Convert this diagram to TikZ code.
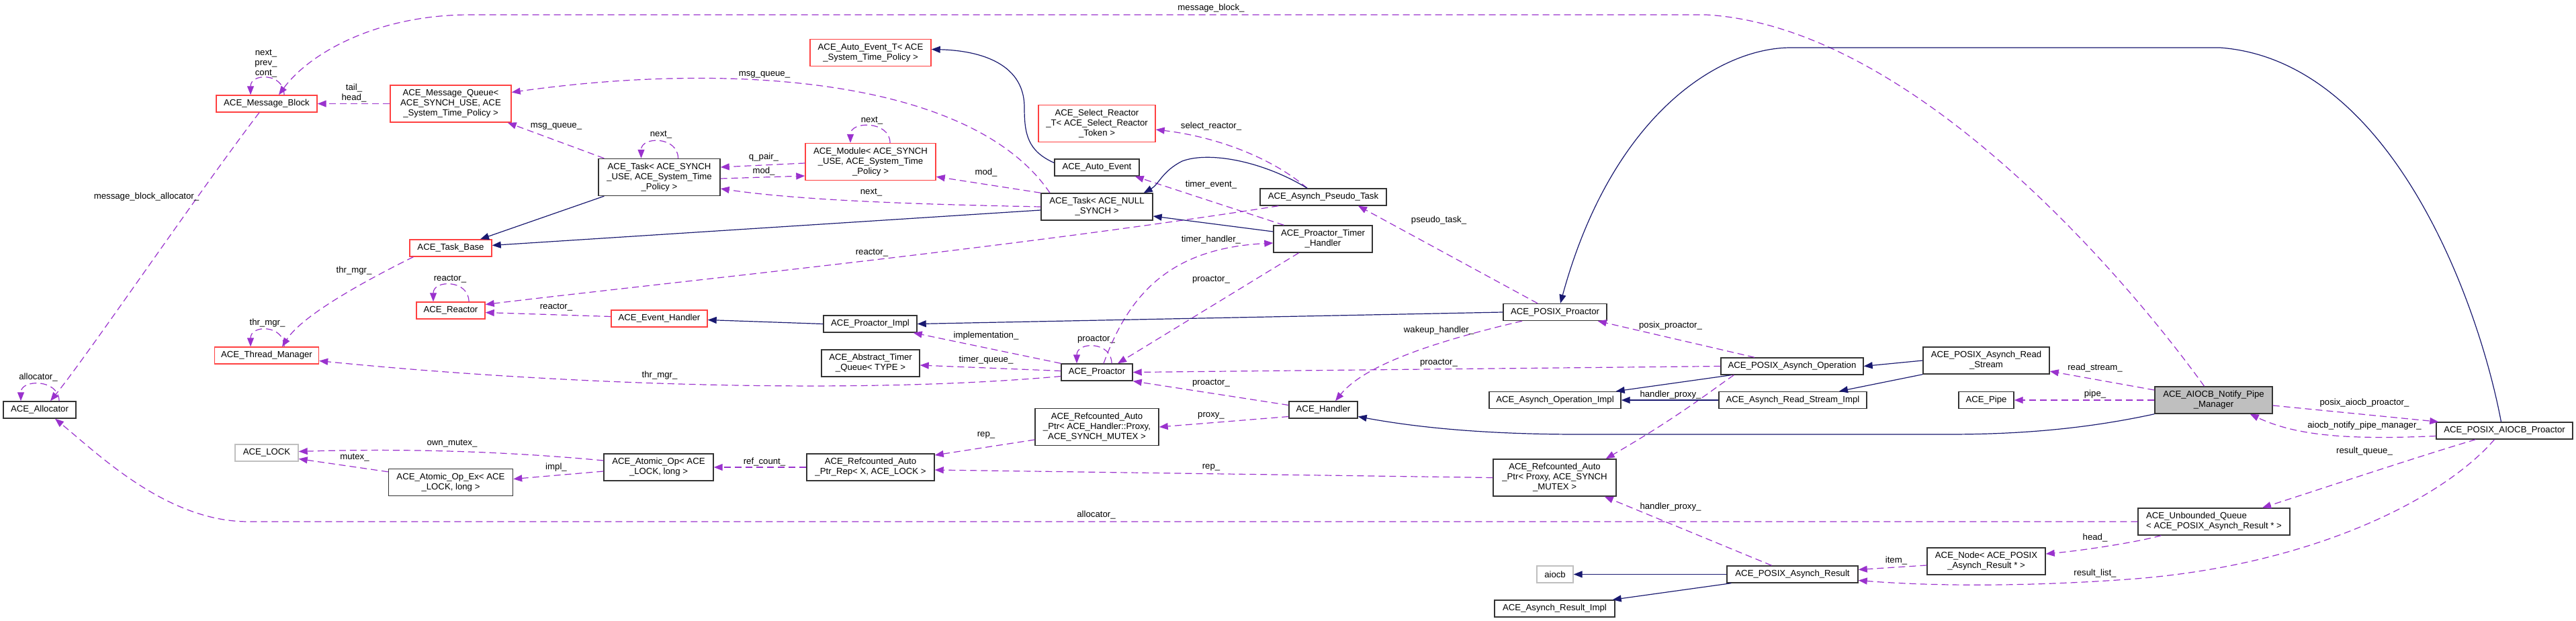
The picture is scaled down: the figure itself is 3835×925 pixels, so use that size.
\documentclass[tikz,border=0pt]{standalone}
\usepackage{fontspec}
\setmainfont{Liberation Sans}
\usetikzlibrary{arrows.meta}
\definecolor{usecol}{HTML}{9A32CD}
\definecolor{inhcol}{HTML}{191970}
\definecolor{boxred}{HTML}{FF4040}
\definecolor{boxgrey}{HTML}{BFBFBF}

\begin{document}
\begin{tikzpicture}[x=1pt,y=-1pt,>={Triangle[length=13pt,width=10pt]}]
	\tikzstyle{every node}=[font=\fontsize{13.2}{15}\selectfont]
	\tikzstyle{cls}=[draw=black!80, line width=1.4pt, fill=white, inner sep=1pt, align=center]
	\tikzstyle{redcls}=[cls, draw=boxred]
	\tikzstyle{greycls}=[cls, draw=boxgrey]
	\tikzstyle{h1}=[minimum height=25pt]
	\tikzstyle{h2}=[minimum height=40pt]
	\tikzstyle{h3}=[minimum height=55pt]
	\tikzstyle{useline}=[draw=usecol, line width=1.2pt, dash pattern=on 10pt off 6pt, ->]
	\tikzstyle{inhline}=[draw=inhcol, line width=1.2pt, ->]
	\tikzstyle{lbl}=[inner sep=0pt, align=center]

	\path[use as bounding box, fill=white] (0,0) rectangle (3835,925);

	\node[redcls, minimum width=150pt, h1] (MB) at (397,154.5) {ACE\_Message\_Block};
	\node[redcls, minimum width=180pt, h3] (MQ) at (671,154.5) {ACE\_Message\_Queue<\\ACE\_SYNCH\_USE, ACE\\\_System\_Time\_Policy >};
	\node[cls, minimum width=108pt, h1] (Alloc) at (59,610.5) {ACE\_Allocator};
	\node[redcls, minimum width=155pt, h1] (TM) at (397,529.5) {ACE\_Thread\_Manager};
	\node[greycls, minimum width=94pt, h1] (LOCK) at (397,674.5) {ACE\_LOCK};
	\node[cls, minimum width=185pt, h2] (AOE) at (671,718.5) {ACE\_Atomic\_Op\_Ex< ACE\\\_LOCK, long >};
	\node[redcls, minimum width=122pt, h1] (TB) at (671,369.5) {ACE\_Task\_Base};
	\node[redcls, minimum width=102pt, h1] (Re) at (671,462.5) {ACE\_Reactor};
	\node[cls, minimum width=181pt, h3] (TS) at (981.5,264) {ACE\_Task< ACE\_SYNCH\\\_USE, ACE\_System\_Time\\\_Policy >};
	\node[redcls, minimum width=143pt, h1] (EH) at (981.5,474.5) {ACE\_Event\_Handler};
	\node[cls, minimum width=163pt, h2] (AO) at (980.5,696) {ACE\_Atomic\_Op< ACE\\\_LOCK, long >};
	\node[redcls, minimum width=180pt, h2] (AET) at (1296,78.5) {ACE\_Auto\_Event\_T< ACE\\\_System\_Time\_Policy >};
	\node[redcls, minimum width=194pt, h3] (Mod) at (1296,241) {ACE\_Module< ACE\_SYNCH\\\_USE, ACE\_System\_Time\\\_Policy >};
	\node[cls, minimum width=139pt, h1] (PI) at (1295.5,482.5) {ACE\_Proactor\_Impl};
	\node[cls, minimum width=146pt, h2] (ATQ) at (1296,541) {ACE\_Abstract\_Timer\\\_Queue< TYPE >};
	\node[cls, minimum width=190pt, h2] (RAPR) at (1296,696) {ACE\_Refcounted\_Auto\\\_Ptr\_Rep< X, ACE\_LOCK >};
	\node[redcls, minimum width=174pt, h3] (SR) at (1633,184) {ACE\_Select\_Reactor\\\_T< ACE\_Select\_Reactor\\\_Token >};
	\node[cls, minimum width=126pt, h1] (AE) at (1633,249.5) {ACE\_Auto\_Event};
	\node[cls, minimum width=166pt, h2] (TN) at (1633,308) {ACE\_Task< ACE\_NULL\\\_SYNCH >};
	\node[cls, minimum width=106pt, h1] (Pro) at (1633,554.5) {ACE\_Proactor};
	\node[cls, minimum width=184pt, h3] (RAPH) at (1633,636) {ACE\_Refcounted\_Auto\\\_Ptr< ACE\_Handler::Proxy,\\ACE\_SYNCH\_MUTEX >};
	\node[cls, minimum width=188pt, h1] (APT) at (1970,293.5) {ACE\_Asynch\_Pseudo\_Task};
	\node[cls, minimum width=147pt, h2] (PTH) at (1969.5,356) {ACE\_Proactor\_Timer\\\_Handler};
	\node[cls, minimum width=154pt, h1] (PP) at (2315,465) {ACE\_POSIX\_Proactor};
	\node[cls, minimum width=102pt, h1] (Han) at (1970,610.5) {ACE\_Handler};
	\node[cls, minimum width=196pt, h1] (AOI) at (2315,596) {ACE\_Asynch\_Operation\_Impl};
	\node[cls, minimum width=183pt, h3] (RAPP) at (2314.5,711.5) {ACE\_Refcounted\_Auto\\\_Ptr< Proxy, ACE\_SYNCH\\\_MUTEX >};
	\node[greycls, minimum width=54pt, h1] (aiocb) at (2315,855.5) {aiocb};
	\node[cls, minimum width=179pt, h1] (ARI) at (2314.5,906.5) {ACE\_Asynch\_Result\_Impl};
	\node[cls, minimum width=212pt, h1] (PAO) at (2668,545.5) {ACE\_POSIX\_Asynch\_Operation};
	\node[cls, minimum width=220pt, h1] (ARSI) at (2669,596) {ACE\_Asynch\_Read\_Stream\_Impl};
	\node[cls, minimum width=195pt, h1] (PAR) at (2668.5,855.5) {ACE\_POSIX\_Asynch\_Result};
	\node[cls, minimum width=188pt, h2] (PARS) at (2957,537) {ACE\_POSIX\_Asynch\_Read\\\_Stream};
	\node[cls, minimum width=82pt, h1] (Pipe) at (2957,596) {ACE\_Pipe};
	\node[cls, minimum width=176pt, h2] (Node) at (2957,836) {ACE\_Node< ACE\_POSIX\\\_Asynch\_Result * >};
	\node[cls, fill=boxgrey, minimum width=175pt, h2] (ANPM) at (3295.5,596) {ACE\_AIOCB\_Notify\_Pipe\\\_Manager};
	\node[cls, minimum width=226pt, h2, align=left] (UQ) at (3296,777) {ACE\_Unbounded\_Queue\\< ACE\_POSIX\_Asynch\_Result * >};
	\node[cls, minimum width=203pt, h1] (PAP) at (3728.5,641.5) {ACE\_POSIX\_AIOCB\_Proactor};

	\draw[useline] ([xshift=26pt]MB.north) .. controls +(0,-33) and +(0,-33) .. ([xshift=-24pt]MB.north) node[lbl] at (396,95) {next\_\\prev\_\\cont\_};
	\draw[useline] ([xshift=29pt]Alloc.north) .. controls +(0,-33) and +(0,-33) .. ([xshift=-28pt]Alloc.north) node[lbl] at (57,562) {allocator\_};
	\draw[useline] ([xshift=26pt]TM.north) .. controls +(0,-33) and +(0,-33) .. ([xshift=-24pt]TM.north) node[lbl] at (398,481) {thr\_mgr\_};
	\draw[useline] ([xshift=28pt]TS.north) .. controls +(0,-33) and +(0,-33) .. ([xshift=-27pt]TS.north) node[lbl] at (984,201) {next\_};
	\draw[useline] ([xshift=29pt]Mod.north) .. controls +(0,-33) and +(0,-33) .. ([xshift=-30pt]Mod.north) node[lbl] at (1298,180) {next\_};
	\draw[useline] ([xshift=27pt]Re.north) .. controls +(0,-33) and +(0,-33) .. ([xshift=-26pt]Re.north) node[lbl] at (670,416) {reactor\_};
	\draw[useline] ([xshift=22pt]Pro.north) .. controls +(0,-33) and +(0,-33) .. ([xshift=-30pt]Pro.north) node[lbl] at (1632,506) {proactor\_};

	\draw[useline] ([xshift=-14pt]ANPM.north) .. controls (3170,420) and (2850,40) .. (2540,22) -- (700,22) .. controls (560,22) and (460,80) .. ([xshift=18pt]MB.north) node[lbl] at (1803,12) {message\_block\_};
	\draw[useline] (MQ.west) -- (MB.east) node[lbl] at (527,139) {tail\_\\head\_};
	\draw[useline] ([xshift=-11pt]MB.south) .. controls (300,280) and (130,530) .. ([xshift=16pt]Alloc.north) node[lbl] at (218,293) {message\_block\_allocator\_};
	\draw[useline] (UQ.west) -- (370,777) .. controls (250,777) and (150,680) .. ([xshift=23pt]Alloc.south) node[lbl] at (1632,767) {allocator\_};
	\draw[useline] ([xshift=6pt]TB.south west) .. controls (540,420) and (450,470) .. ([xshift=23pt]TM.north) node[lbl] at (527,403) {thr\_mgr\_};
	\draw[useline] ([yshift=-6pt]Pro.west) .. controls (1250,590) and (800,570) .. ([yshift=-8pt]TM.east) node[lbl] at (982,559) {thr\_mgr\_};
	\draw[useline] ([xshift=9pt]TS.north west) -- ([xshift=-6pt]MQ.south east) node[lbl] at (828,188) {msg\_queue\_};
	\draw[useline] ([xshift=-70pt]TN.north) .. controls (1450,120) and (1100,90) .. ([yshift=17pt]MQ.east) node[lbl] at (1138,111) {msg\_queue\_};
	\draw[useline] ([yshift=-2pt]Mod.west) -- ([yshift=15pt]TS.east) node[lbl] at (1137,234) {q\_pair\_};
	\draw[useline] ([yshift=-2pt]TS.east) -- ([yshift=-21pt]Mod.west) node[lbl] at (1137,255) {mod\_};
	\draw[useline] (TN.north west) -- ([yshift=6pt]Mod.south east) node[lbl] at (1468,257) {mod\_};
	\draw[useline] (TN.west) .. controls (1400,305) and (1200,300) .. ([yshift=-17pt]TS.east) node[lbl] at (1297,287) {next\_};
	\draw[useline] ([xshift=28pt]APT.south west) .. controls (1500,370) and (1000,420) .. ([yshift=9pt]Re.east) node[lbl] at (1298,377) {reactor\_};
	\draw[useline] ([yshift=3pt]EH.west) -- ([yshift=-3pt]Re.east) node[lbl] at (828,458) {reactor\_};
	\draw[useline] (Pro.north west) -- ([xshift=-6pt]PI.south east) node[lbl] at (1468,500) {implementation\_};
	\draw[useline] ([yshift=2pt]Pro.west) -- ([yshift=-3pt]ATQ.east) node[lbl] at (1468,536) {timer\_queue\_};
	\draw[useline] ([xshift=10pt]Pro.north) .. controls (1680,440) and (1740,370) .. ([yshift=-6pt]PTH.west) node[lbl] at (1803,357) {timer\_handler\_};
	\draw[useline] ([xshift=-36pt]PTH.south) -- ([xshift=31pt]Pro.north) node[lbl] at (1803,417) {proactor\_};
	\draw[useline] (PAO.west) -- (Pro.east) node[lbl] at (2142,541) {proactor\_};
	\draw[useline] ([yshift=7pt]Han.west) -- (Pro.south east) node[lbl] at (1803,571) {proactor\_};
	\draw[useline] ([yshift=-10pt]Han.west) -- (RAPH.east) node[lbl] at (1803,619) {proxy\_};
	\draw[useline] ([yshift=-19pt]RAPH.west) -- ([yshift=18pt]RAPR.east) node[lbl] at (1468,648) {rep\_};
	\draw[useline] (RAPP.west) -- ([yshift=-4pt]RAPR.east) node[lbl] at (1803,696) {rep\_};
	\draw[useline] (RAPR.west) -- (AO.east) node[lbl] at (1138,688) {ref\_count\_};
	\draw[useline] ([yshift=10pt]AO.west) .. controls (750,672) and (600,668) .. ([yshift=2pt]LOCK.east) node[lbl] at (673,661) {own\_mutex\_};
	\draw[useline] ([yshift=-6pt]AO.west) -- ([yshift=5pt]AOE.east) node[lbl] at (828,696) {impl\_};
	\draw[useline] ([yshift=-5pt]AOE.north west) -- ([yshift=-9pt]LOCK.east) node[lbl] at (528,682) {mutex\_};
	\draw[useline] ([xshift=16pt]PTH.north west) -- ([xshift=-7pt]AE.south east) node[lbl] at (1803,275) {timer\_event\_};
	\draw[useline] ([xshift=-24pt]APT.north) .. controls (1900,240) and (1820,205) .. ([yshift=-9pt]SR.east) node[lbl] at (1803,188) {select\_reactor\_};
	\draw[useline] ([xshift=-26pt]PP.north) -- ([xshift=52pt]APT.south) node[lbl] at (2142,328) {pseudo\_task\_};
	\draw[useline] ([xshift=-49pt]PP.south) .. controls (2130,510) and (2030,545) .. ([xshift=18pt]Han.north) node[lbl] at (2142,492) {wakeup\_handler\_};
	\draw[useline] ([xshift=-56pt]PAO.north) -- ([xshift=-14pt]PP.south east) node[lbl] at (2487,485) {posix\_proactor\_};
	\draw[useline] ([xshift=20pt]PAO.south west) .. controls (2550,580) and (2500,620) .. ([xshift=-16pt]RAPP.north east) node[lbl] at (2487,588) {handler\_proxy\_};
	\draw[useline] ([xshift=-31pt]PAR.north) -- ([xshift=-18pt]RAPP.south east) node[lbl] at (2487,755) {handler\_proxy\_};
	\draw[useline] ([yshift=15pt]ANPM.west) -- ([yshift=-16pt]PARS.east) node[lbl] at (3119,548) {read\_stream\_};
	\draw[useline] (ANPM.west) -- (Pipe.east) node[lbl] at (3119,587) {pipe\_};
	\draw[useline] ([yshift=-8pt]ANPM.east) -- ([xshift=4pt]PAP.north west) node[lbl] at (3520,600) {posix\_aiocb\_proactor\_};
	\draw[useline] ([yshift=-8pt]PAP.west) .. controls (3500,655) and (3420,650) .. ([xshift=-34pt]ANPM.south east) node[lbl] at (3520,634) {aiocb\_notify\_pipe\_manager\_};
	\draw[useline] ([xshift=-43pt]PAP.south) .. controls (3600,680) and (3450,730) .. ([xshift=72pt]UQ.north) node[lbl] at (3520,672) {result\_queue\_};
	\draw[useline] ([xshift=35pt]UQ.south west) .. controls (3180,808) and (3100,820) .. ([yshift=11pt]Node.east) node[lbl] at (3119,801) {head\_};
	\draw[useline] ([yshift=-6pt]Node.west) -- ([yshift=7pt]PAR.east) node[lbl] at (2823,835) {item\_};
	\draw[useline] ([xshift=-15pt]PAP.south) .. controls (3640,740) and (3450,840) .. (3180,862) .. controls (3050,872) and (2900,875) .. ([yshift=-9pt]PAR.east) node[lbl] at (3119,854) {result\_list\_};

	\draw[inhline] ([xshift=9pt]TS.south west) -- ([xshift=44pt]TB.north);
	\draw[inhline] ([yshift=-5pt]TN.west) -- ([yshift=4pt]TB.east);
	\draw[inhline] ([yshift=7pt]AE.west) .. controls (1530,225) and (1525,200) .. (1525,160) .. controls (1525,90) and (1450,75) .. ([yshift=5pt]AET.east);
	\draw[inhline] ([xshift=-24pt]APT.north) .. controls (1880,240) and (1800,225) .. (1760,240) .. controls (1730,255) and (1725,275) .. ([xshift=-14pt]TN.north east);
	\draw[inhline] ([yshift=11pt]PTH.west) -- ([yshift=-14pt]TN.east);
	\draw[inhline] (PP.west) -- (PI.east);
	\draw[inhline] (PI.west) -- ([yshift=-2pt]EH.east);
	\draw[inhline] ([xshift=-5pt]PAP.north) .. controls (3690,450) and (3560,90) .. (3305,71) -- (2666,71) .. controls (2560,71) and (2400,170) .. ([xshift=8pt]PP.north);
	\draw[inhline] (ANPM.south west) .. controls (3100,640) and (3000,647) .. (2900,647) -- (2350,647) .. controls (2200,647) and (2100,635) .. ([yshift=-10pt]Han.east);
	\draw[inhline] ([xshift=16pt]PAO.south west) -- ([xshift=-8pt]AOI.north east);
	\draw[inhline] (ARSI.west) -- (AOI.east);
	\draw[inhline] (PARS.west) -- (PAO.east);
	\draw[inhline] (PARS.south west) -- ([xshift=69pt]ARSI.north);
	\draw[inhline] (PAR.west) -- (aiocb.east);
	\draw[inhline] ([xshift=7pt]PAR.south west) -- ([xshift=-4pt]ARI.north east);
\end{tikzpicture}
\end{document}
